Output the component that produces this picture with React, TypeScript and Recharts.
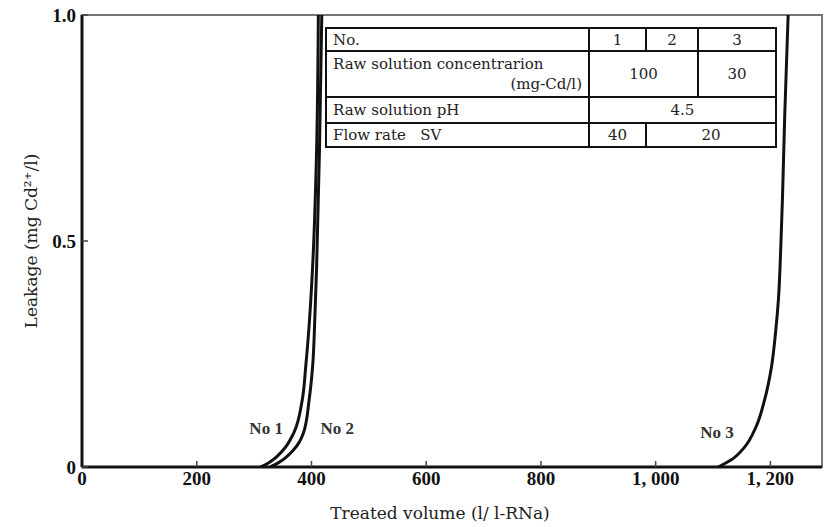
import React from 'react';
import { LineChart, Line, XAxis, YAxis, ReferenceArea, ReferenceDot } from 'recharts';

// breakthrough curves
const leakY = [0, 0.009, 0.038, 0.075, 0.149, 0.222, 0.333, 0.443, 0.703, 1.0];
const no1X = [311, 325, 351, 369, 384, 390, 397, 402, 409, 412];
const no2X = [328, 342, 369, 386, 396, 402, 406, 409, 414, 418];
const no3X = [1109, 1132, 1155, 1175, 1190, 1202, 1209, 1214, 1218, 1221, 1225, 1231];
const no3Y = [0, 0.016, 0.044, 0.089, 0.149, 0.222, 0.297, 0.37, 0.481, 0.592, 0.776, 1.0];

const xTicks = [0, 200, 400, 600, 800, 1000, 1200];
const yTicks = [0, 0.5, 1.0];

const tableRows = [
  ['No.', '1', '2', '3'],
  ['Raw solution concentrarion', '(mg-Cd/l)', '100', '30'],
  ['Raw solution pH', '4.5'],
  ['Flow rate   SV', '40', '20'],
];

const toPoints = (xs: number[], ys: number[]) => xs.map((x, i) => ({ x, y: ys[i] }));

const serif = '"DejaVu Serif", "Liberation Serif", serif';
const tickFont = { fontFamily: '"Liberation Serif", serif', fontWeight: 700, fontSize: 19, fill: '#111' };

const fmtX = (v: number) => (v >= 1000 ? v.toLocaleString('en-US').replace(',', ', ') : String(v));
const fmtY = (v: number) => (v === 0 ? '0' : v.toFixed(1));

const cell: React.CSSProperties = { border: '2px solid #111', padding: '0 6px', fontFamily: serif, fontSize: 15, color: '#222' };

function ParamTable() {
  return (
    <table
      style={{
        position: 'absolute', left: 325, top: 27, width: 450, borderCollapse: 'collapse',
        background: '#fff', tableLayout: 'fixed',
      }}
    >
      <colgroup>
        <col style={{ width: 263 }} />
        <col style={{ width: 57 }} />
        <col style={{ width: 52 }} />
        <col style={{ width: 78 }} />
      </colgroup>
      <tbody>
        <tr style={{ height: 23 }}>
          <td style={cell}>{tableRows[0][0]}</td>
          <td style={{ ...cell, textAlign: 'center' }}>{tableRows[0][1]}</td>
          <td style={{ ...cell, textAlign: 'center' }}>{tableRows[0][2]}</td>
          <td style={{ ...cell, textAlign: 'center' }}>{tableRows[0][3]}</td>
        </tr>
        <tr style={{ height: 46 }}>
          <td style={{ ...cell, lineHeight: '20px' }}>
            <div>{tableRows[1][0]}</div>
            <div style={{ textAlign: 'right' }}>{tableRows[1][1]}</div>
          </td>
          <td colSpan={2} style={{ ...cell, textAlign: 'center' }}>{tableRows[1][2]}</td>
          <td style={{ ...cell, textAlign: 'center' }}>{tableRows[1][3]}</td>
        </tr>
        <tr style={{ height: 26 }}>
          <td style={cell}>{tableRows[2][0]}</td>
          <td colSpan={3} style={{ ...cell, textAlign: 'center' }}>{tableRows[2][1]}</td>
        </tr>
        <tr style={{ height: 24 }}>
          <td style={{ ...cell, whiteSpace: 'pre' }}>{tableRows[3][0]}</td>
          <td style={{ ...cell, textAlign: 'center' }}>{tableRows[3][1]}</td>
          <td colSpan={2} style={{ ...cell, textAlign: 'center' }}>{tableRows[3][2]}</td>
        </tr>
      </tbody>
    </table>
  );
}

const curveLabel = (text: string) => ({
  value: text,
  position: 'center' as const,
  style: { fontFamily: '"Liberation Serif", serif', fontWeight: 700, fontSize: 17, fill: '#333' },
});

export default function App() {
  return (
    <div style={{ position: 'absolute', left: 0, top: 0, width: 827, height: 527, background: '#fff' }}>
      <LineChart width={827} height={527} margin={{ top: 15, right: 5, bottom: 0, left: 0 }}>
        <ReferenceArea x1={0} x2={1290} y1={0} y2={1} fill="none" stroke="#777" strokeWidth={2} ifOverflow="visible" />
        <XAxis
          type="number"
          dataKey="x"
          domain={[0, 1290]}
          ticks={xTicks}
          tickFormatter={fmtX}
          allowDataOverflow
          height={60}
          tickSize={-6}
          tickMargin={11}
          tick={tickFont}
          axisLine={{ stroke: '#111', strokeWidth: 3 }}
          tickLine={{ stroke: '#444', strokeWidth: 1.5 }}
          label={{
            value: 'Treated volume (l/ l-RNa)',
            position: 'insideBottom',
            offset: 8,
            dx: -12,
            style: { fontFamily: serif, fontSize: 17, fill: '#222' },
          }}
        />
        <YAxis
          type="number"
          dataKey="y"
          domain={[0, 1]}
          ticks={yTicks}
          tickFormatter={fmtY}
          width={82}
          tickSize={-6}
          tickMargin={12}
          tick={tickFont}
          axisLine={{ stroke: '#111', strokeWidth: 3 }}
          tickLine={{ stroke: '#444', strokeWidth: 1.5 }}
          label={{
            value: 'Leakage (mg Cd²⁺/l)',
            angle: -90,
            position: 'insideLeft',
            offset: 31,
            style: { fontFamily: serif, fontSize: 17, fill: '#222', textAnchor: 'middle' },
          }}
        />
        <Line data={toPoints(no1X, leakY)} dataKey="y" type="monotoneY" stroke="#111" strokeWidth={3} dot={false} isAnimationActive={false} />
        <Line data={toPoints(no2X, leakY)} dataKey="y" type="monotoneY" stroke="#111" strokeWidth={3} dot={false} isAnimationActive={false} />
        <Line data={toPoints(no3X, no3Y)} dataKey="y" type="monotoneY" stroke="#111" strokeWidth={3} dot={false} isAnimationActive={false} />
        <ReferenceDot x={321} y={0.086} r={0} fill="none" stroke="none" label={curveLabel('No 1')} />
        <ReferenceDot x={445} y={0.086} r={0} fill="none" stroke="none" label={curveLabel('No 2')} />
        <ReferenceDot x={1107} y={0.078} r={0} fill="none" stroke="none" label={curveLabel('No 3')} />
      </LineChart>
      <ParamTable />
    </div>
  );
}
